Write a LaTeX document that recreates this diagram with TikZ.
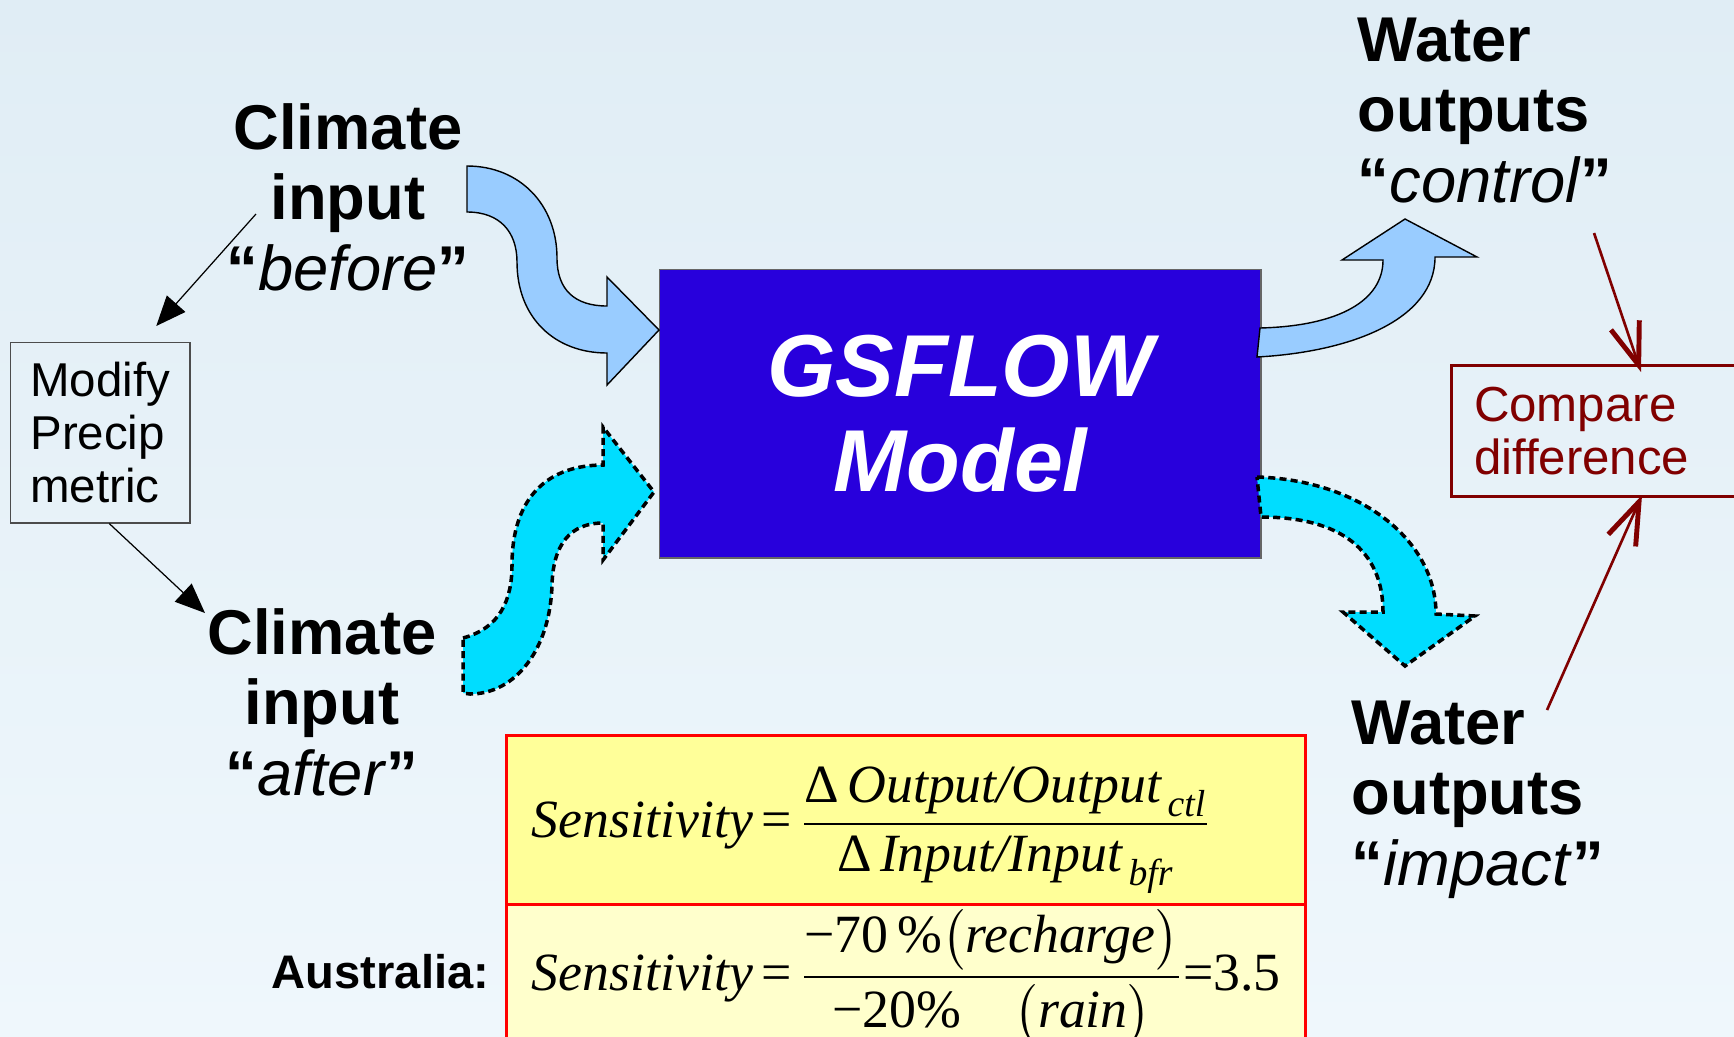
\documentclass[tikz,border=0pt]{standalone}
\usepackage{fontspec}
\usepackage{amsmath}
\setmainfont{Liberation Sans}
\newfontfamily\tms{Liberation Serif}
\usetikzlibrary{calc,arrows.meta}

\definecolor{waterbg}{RGB}{224,237,245}
\definecolor{waterlt}{RGB}{239,247,252}
\definecolor{modelblue}{RGB}{40,0,220}
\definecolor{flowblue}{RGB}{153,204,255}
\definecolor{flowcyan}{RGB}{0,221,255}
\definecolor{cmpred}{RGB}{128,0,0}
\definecolor{sensyel}{RGB}{255,255,153}
\definecolor{senslt}{RGB}{255,255,204}

\begin{document}
\begin{tikzpicture}[x=0.01cm, y=-0.01cm,
  lbl/.style={inner sep=0pt, font=\fontsize{18}{20}\selectfont\bfseries},
  thinarrow/.style={-{Triangle[length=8.5pt,width=7pt]}, line width=0.35pt},
  redarrow/.style={cmpred, line width=0.75pt, -{Straight Barb[length=12pt,width=8.5pt,line width=1.4pt]}},
  solidflow/.style={fill=flowblue, draw=black, line width=0.4pt},
  dashflow/.style={fill=flowcyan, draw=black, line width=1pt, dash pattern=on 2pt off 1.2pt}]
\useasboundingbox (0,0) rectangle (1734,1036);
\shade [top color=waterbg, bottom color=waterlt] (0,0) rectangle (1734,1036);
\clip (0,0) rectangle (1734,1036);

\node [lbl, align=center, anchor=base] (before) at (348,290) {Climate\\input\\“\textit{\mdseries before}”};
\node [lbl, align=center, anchor=base] (after) at (322,795) {Climate\\input\\“\textit{\mdseries after}”};
\node [lbl, align=left, anchor=base west] (control) at (1357,202) {Water\\outputs\\“\textit{\mdseries control}”};
\node [lbl, align=left, anchor=base west] (impact) at (1351,885) {Water\\outputs\\“\textit{\mdseries impact}”};

\node [draw=black!70, line width=0.4pt, minimum width=1.79cm, minimum height=1.8cm, anchor=north west, align=left, font=\fontsize{13.5}{15}\selectfont] (modify) at (10,342) {Modify\\Precip\\metric};

\node [draw=black!60, fill=modelblue, minimum width=6.01cm, minimum height=2.88cm, anchor=north west, text=white, font=\fontsize{25}{27}\selectfont\bfseries\itshape, align=center] (gsflow) at (659,269) {GSFLOW\\Model};

\node [draw=cmpred, line width=0.85pt, text=cmpred, minimum width=3.3cm, minimum height=1.31cm, anchor=north west, align=left, text width=2.85cm, font=\fontsize{14}{15}\selectfont] (compare) at (1450,364) {Compare\\difference};

% flow arrows into and out of the model
\filldraw [solidflow] (467,166) .. controls (520,166) and (557,205) .. (557,258) .. controls (557,290) and (575,306) .. (607,306) -- (607,277) -- (659,330) -- (607,385) -- (607,353) .. controls (555,353) and (517,318) .. (517,262) .. controls (517,232) and (500,212) .. (467,212) -- cycle;
\filldraw [dashflow] (463,638) .. controls (500,628) and (512,600) .. (512,565) .. controls (512,495) and (550,465) .. (603,465) -- (603,427) -- (654,492) -- (603,560) -- (603,523) .. controls (570,523) and (553,545) .. (552,585) .. controls (550,650) and (515,694) .. (470,694) -- (463,693) -- cycle;
\filldraw [solidflow] (1260,328) .. controls (1340,326) and (1383,300) .. (1383,260) -- (1342,260) -- (1405,219) -- (1477,257) -- (1435,257) .. controls (1435,320) and (1350,352) .. (1257,357) -- cycle;
\filldraw [dashflow] (1257,477) .. controls (1360,480) and (1436,540) .. (1436,614) -- (1475,616) -- (1405,666) -- (1343,612) -- (1383,612) .. controls (1383,550) and (1340,517) .. (1261,517) -- cycle;

\draw [red, line width=0.85pt, fill=sensyel] (506,735) rectangle (1305,904);
\draw [red, line width=0.85pt, fill=senslt] (506,904) rectangle (1305,1060);

\node [anchor=base west, inner sep=0pt, font=\fontsize{15.3}{18}\selectfont\tms\itshape] (sens) at (531,837) {$\text{Sensitivity}\,\text{\upshape=}\,\dfrac{\text{\upshape Δ}\,\text{Output/Output}_{\,\text{ctl}}}{\text{\upshape Δ}\,\text{Input/Input}_{\,\text{bfr}}}$};
\node [anchor=base west, inner sep=0pt, font=\fontsize{15.3}{18}\selectfont\tms\itshape] (sensau) at (531,990) {$\text{Sensitivity}\,\text{\upshape=}\,\dfrac{\text{\upshape −70\,\%}\bigl(\text{recharge}\bigr)}{\text{\upshape −20\%}\quad\bigl(\text{rain}\bigr)}\text{\upshape=3.5}$};
\node [anchor=base east, inner sep=0pt, font=\fontsize{13.4}{15}\selectfont\bfseries] (australia) at (490,988) {Australia:};

\coordinate (bfrtail) at (256,214);
\coordinate (afttip) at (205,613);
\draw [thinarrow] (bfrtail) -- ($(modify.north)+(56,-16)$);
\draw [thinarrow] ($(modify.south)+(9,0)$) -- (afttip);

\coordinate (ctltail) at (1594,233);
\coordinate (imptail) at (1547,710);
\draw [redarrow] (ctltail) -- ($(compare.north west)+(191,8)$);
\draw [redarrow] (imptail) -- ($(compare.south west)+(192,-3)$);
\end{tikzpicture}
\end{document}
